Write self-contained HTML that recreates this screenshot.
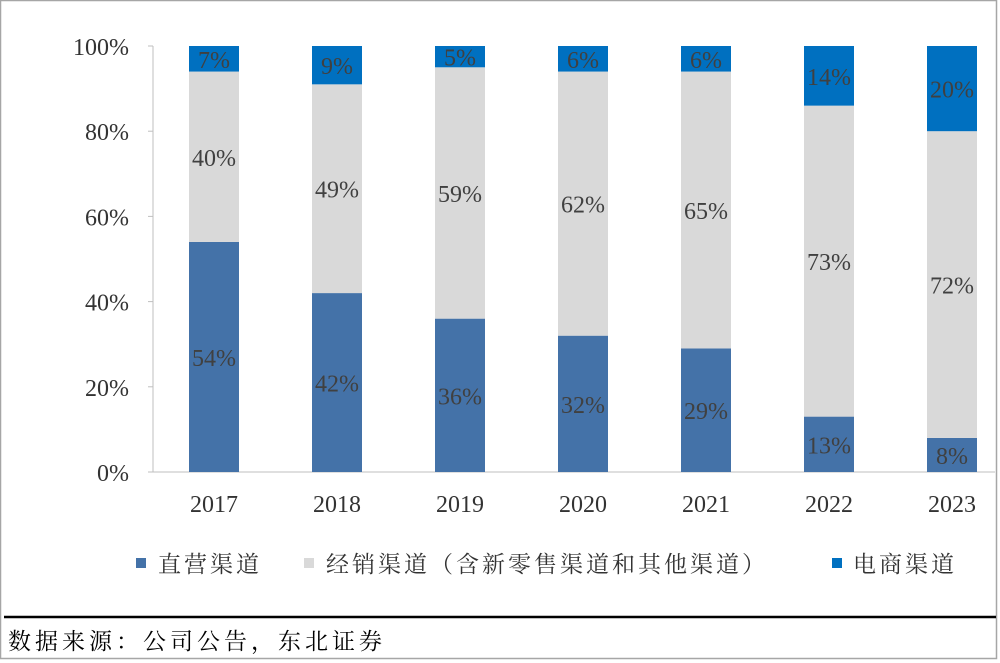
<!DOCTYPE html>
<html><head><meta charset="utf-8"><style>
body{margin:0;background:#fff;}
svg{display:block;font-family:"Liberation Serif","Noto Serif CJK SC",serif;}
</style></head><body>
<svg id="c" width="1000" height="663" viewBox="0 0 1000 663">
<rect x="0.5" y="0.5" width="996" height="658" fill="#fff" stroke="#a6a6a6" stroke-width="1.5"/>
<g id="grid"></g><g id="bars"></g><g id="labels"></g>
<g font-size="23" fill="#333" letter-spacing="3">
<g><rect x="136" y="558" width="10" height="10" fill="#4472a8"/><text x="158" y="572">直营渠道</text></g>
<g><rect x="304" y="558" width="10" height="10" fill="#d9d9d9"/><text x="326" y="572">经销渠道（含新零售渠道和其他渠道）</text></g>
<g><rect x="832" y="558" width="10" height="10" fill="#0070c0"/><text x="853" y="572">电商渠道</text></g>
</g>
<line x1="4" y1="617" x2="996" y2="617" stroke="#000" stroke-width="2.5"/>
<text x="8" y="649" font-size="23" letter-spacing="4" fill="#000">数据来源：公司公告，东北证券</text>
</svg>
<script>
const categories=["2017","2018","2019","2020","2021","2022","2023"];
const direct=[54,42,36,32,29,13,8];
const distribution=[40,49,59,62,65,73,72];
const ecommerce=[7,9,5,6,6,14,20];
const yTicks=[0,20,40,60,80,100];
const NS="http://www.w3.org/2000/svg";
const y0=472,y1=46,x0=153,step=123,bw=50;
const y=v=>y0-(v/100)*(y0-y1);
const xc=i=>214+i*step;
function mk(t,a,p){const e=document.createElementNS(NS,t);for(const k in a)e.setAttribute(k,a[k]);p.appendChild(e);return e;}
const grid=document.getElementById('grid'),bars=document.getElementById('bars'),labels=document.getElementById('labels');
mk('line',{x1:x0,y1:y1,x2:x0,y2:y0,stroke:'#bfbfbf','stroke-width':1},grid);
mk('line',{x1:x0,y1:y0,x2:995,y2:y0,stroke:'#bfbfbf','stroke-width':1},grid);
yTicks.forEach(t=>{
  const tx=mk('text',{x:129,y:y(t)+9,'text-anchor':'end','font-size':24,fill:'#333'},grid);tx.textContent=t+'%';
  
  
  mk('line',{x1:x0-5,y1:y(t),x2:x0,y2:y(t),stroke:'#bfbfbf'},grid);
});
const series=[[direct,'#4472a8','direct'],[distribution,'#d9d9d9','distribution'],[ecommerce,'#0070c0','ecommerce']];
categories.forEach((c,i)=>{
  const xl=mk('text',{x:xc(i),y:512,'text-anchor':'middle','font-size':24,fill:'#333'},grid);xl.textContent=c;
  
  
  let cum=0;
  series.forEach(([arr,col,nm])=>{
    const a=cum,b=Math.min(100,cum+arr[i]);cum+=arr[i];
    const r=mk('rect',{x:xc(i)-bw/2,y:y(b),width:bw,height:y(a)-y(b),fill:col},bars);
    
    
    const t=mk('text',{x:xc(i),y:(y(a)+y(b))/2+9,'text-anchor':'middle','font-size':24,fill:'#404040'},labels);
    t.textContent=arr[i]+'%';
    
    
  });
});
</script>
</body></html>
